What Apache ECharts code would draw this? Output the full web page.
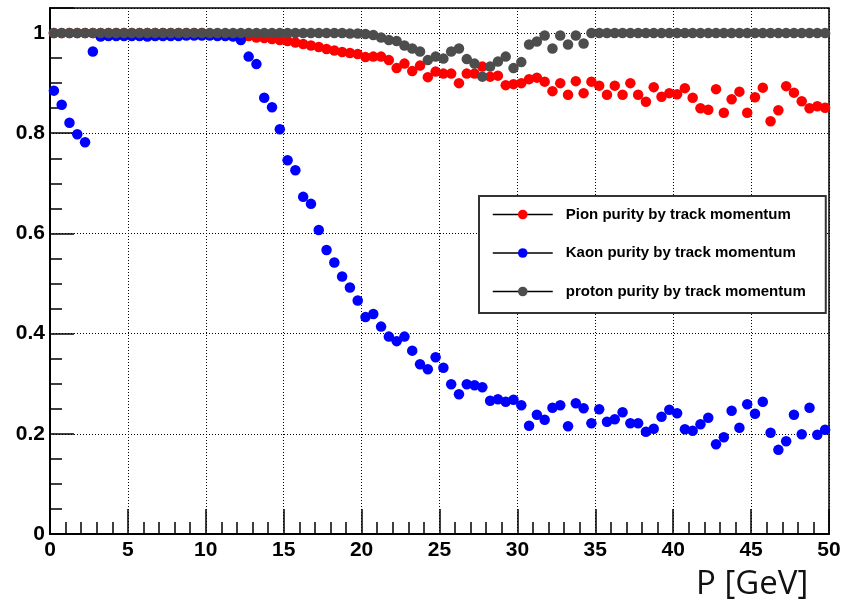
<!DOCTYPE html>
<html>
<head>
<meta charset="utf-8">
<style>
  html, body { margin: 0; padding: 0; background: #fff; }
  #chart { width: 846px; height: 608px; }
</style>
<script src="https://cdn.jsdelivr.net/npm/echarts@6/dist/echarts.min.js"></script>
</head>
<body>
<div id="chart"></div>
<script>
// bin centres of the momentum histogram (GeV)
const momentum = [
  0.25, 0.75, 1.25, 1.75, 2.25, 2.75, 3.25, 3.75, 4.25, 4.75,
  5.25, 5.75, 6.25, 6.75, 7.25, 7.75, 8.25, 8.75, 9.25, 9.75,
  10.25, 10.75, 11.25, 11.75, 12.25, 12.75, 13.25, 13.75, 14.25, 14.75,
  15.25, 15.75, 16.25, 16.75, 17.25, 17.75, 18.25, 18.75, 19.25, 19.75,
  20.25, 20.75, 21.25, 21.75, 22.25, 22.75, 23.25, 23.75, 24.25, 24.75,
  25.25, 25.75, 26.25, 26.75, 27.25, 27.75, 28.25, 28.75, 29.25, 29.75,
  30.25, 30.75, 31.25, 31.75, 32.25, 32.75, 33.25, 33.75, 34.25, 34.75,
  35.25, 35.75, 36.25, 36.75, 37.25, 37.75, 38.25, 38.75, 39.25, 39.75,
  40.25, 40.75, 41.25, 41.75, 42.25, 42.75, 43.25, 43.75, 44.25, 44.75,
  45.25, 45.75, 46.25, 46.75, 47.25, 47.75, 48.25, 48.75, 49.25, 49.75,
]

const pionPurity = [
  1.0, 1.0, 1.0, 1.0, 1.0, 1.0, 1.0, 1.0, 1.0, 1.0,
  1.0, 1.0, 1.0, 1.0, 1.0, 1.0, 1.0, 1.0, 1.0, 1.0,
  0.999, 0.999, 0.998, 0.998, 0.997, 0.994, 0.991, 0.990, 0.988, 0.986,
  0.984, 0.981, 0.978, 0.975, 0.972, 0.968, 0.965, 0.962, 0.960, 0.958,
  0.952, 0.953, 0.953, 0.946, 0.930, 0.939, 0.924, 0.935, 0.912, 0.923,
  0.919, 0.919, 0.900, 0.919, 0.919, 0.933, 0.913, 0.915, 0.896, 0.898,
  0.900, 0.908, 0.911, 0.903, 0.884, 0.900, 0.877, 0.904, 0.880, 0.903,
  0.895, 0.877, 0.895, 0.877, 0.900, 0.877, 0.863, 0.892, 0.873, 0.880,
  0.878, 0.890, 0.871, 0.850, 0.847, 0.888, 0.841, 0.868, 0.883, 0.841,
  0.872, 0.891, 0.824, 0.846, 0.894, 0.881, 0.864, 0.850, 0.854, 0.851,
]

const kaonPurity = [
  0.885, 0.857, 0.821, 0.798, 0.782, 0.963, 0.993, 0.994, 0.994, 0.994,
  0.994, 0.994, 0.993, 0.994, 0.994, 0.994, 0.994, 0.995, 0.995, 0.995,
  0.995, 0.994, 0.994, 0.993, 0.986, 0.953, 0.938, 0.871, 0.852, 0.808,
  0.746, 0.726, 0.673, 0.659, 0.607, 0.567, 0.542, 0.514, 0.492, 0.466,
  0.433, 0.439, 0.414, 0.394, 0.385, 0.394, 0.366, 0.339, 0.329, 0.353,
  0.332, 0.299, 0.279, 0.299, 0.297, 0.293, 0.266, 0.269, 0.264, 0.268,
  0.257, 0.216, 0.238, 0.228, 0.252, 0.257, 0.215, 0.261, 0.251, 0.221,
  0.249, 0.224, 0.229, 0.243, 0.221, 0.221, 0.204, 0.210, 0.234, 0.248,
  0.241, 0.209, 0.206, 0.219, 0.232, 0.179, 0.193, 0.246, 0.212, 0.259,
  0.240, 0.264, 0.202, 0.168, 0.185, 0.238, 0.199, 0.252, 0.198, 0.208,
]

const protonPurity = [
  1.0, 1.0, 1.0, 1.0, 1.0, 1.0, 1.0, 1.0, 1.0, 1.0,
  1.0, 1.0, 1.0, 1.0, 1.0, 1.0, 1.0, 1.0, 1.0, 1.0,
  1.0, 1.0, 1.0, 1.0, 1.0, 1.0, 1.0, 1.0, 1.0, 1.0,
  1.0, 1.0, 1.0, 1.0, 1.0, 1.0, 1.0, 1.0, 0.999, 0.999,
  0.998, 0.996, 0.991, 0.986, 0.984, 0.975, 0.969, 0.963, 0.946, 0.953,
  0.949, 0.963, 0.969, 0.948, 0.939, 0.913, 0.933, 0.943, 0.953, 0.930,
  0.942, 0.977, 0.983, 0.995, 0.969, 0.995, 0.977, 0.995, 0.979, 1.0,
  1.0, 1.0, 1.0, 1.0, 1.0, 1.0, 1.0, 1.0, 1.0, 1.0,
  1.0, 1.0, 1.0, 1.0, 1.0, 1.0, 1.0, 1.0, 1.0, 1.0,
  1.0, 1.0, 1.0, 1.0, 1.0, 1.0, 1.0, 1.0, 1.0, 1.0,
]

const seriesNames = [
  'Pion purity by track momentum',
  'Kaon purity by track momentum',
  'proton purity by track momentum',
]
const seriesColors = ['#ff0000', '#0000ff', '#4d4d4d']

const labelFont = {
  color: '#000',
  fontFamily: 'Liberation Sans',
  fontWeight: 'bold',
  fontSize: 21,
}

const makeSeries = (name, values, color) => ({
  name,
  type: 'line',
  data: momentum.map((p, i) => [p, values[i]]),
  symbol: 'circle',
  symbolSize: 10.5,
  showAllSymbol: true,
  lineStyle: { width: 0, opacity: 0 },
  itemStyle: { color },
  emphasis: { disabled: true },
  animation: false,
})

const chart = echarts.init(document.getElementById('chart'))
chart.setOption({
  animation: false,
  title: {
    text: 'P [GeV]',
    left: 696,
    top: 568,
    padding: 0,
    textStyle: {
      color: '#111',
      fontFamily: 'Open Sans',
      fontWeight: 'normal',
      fontSize: 33,
    },
  },
  grid: {
    left: 50,
    right: 17,
    top: 8,
    bottom: 74,
    show: true,
    borderColor: '#000',
    borderWidth: 1.5,
  },
  legend: {
    orient: 'vertical',
    left: 479,
    top: 196,
    padding: [11, 20, 14, 13],
    itemWidth: 60,
    itemHeight: 12,
    itemGap: 23.5,
    backgroundColor: '#fff',
    borderColor: '#333',
    borderWidth: 2,
    lineStyle: { color: '#000', width: 1.5, opacity: 1 },
    textStyle: {
      color: '#000',
      fontFamily: 'Liberation Sans',
      fontWeight: 'bold',
      fontSize: 15,
      padding: [0, 0, 0, 8],
    },
    selectedMode: false,
    data: seriesNames,
  },
  xAxis: {
    type: 'value',
    min: 0,
    max: 50,
    interval: 5,
    axisLine: { lineStyle: { color: '#000', width: 2 } },
    axisTick: { inside: true, length: 25, lineStyle: { color: '#000', width: 1.5 } },
    minorTick: { show: true, splitNumber: 5, length: 12, lineStyle: { color: '#000', width: 1.5 } },
    splitLine: { show: true, lineStyle: { color: '#000', width: 1, type: [1, 2] } },
    axisLabel: { ...labelFont, margin: 6 },
  },
  yAxis: {
    type: 'value',
    min: 0,
    max: 1.05,
    interval: 0.2,
    axisLine: { show: true, lineStyle: { color: '#000', width: 2 } },
    axisTick: { show: true, inside: true, length: 24, lineStyle: { color: '#000', width: 1.5 } },
    minorTick: { show: true, splitNumber: 4, length: 12, lineStyle: { color: '#000', width: 1.5 } },
    splitLine: { show: true, lineStyle: { color: '#000', width: 1, type: [1, 2] } },
    axisLabel: { ...labelFont, margin: 5, showMaxLabel: false },
  },
  series: [
    makeSeries(seriesNames[0], pionPurity, seriesColors[0]),
    makeSeries(seriesNames[1], kaonPurity, seriesColors[1]),
    makeSeries(seriesNames[2], protonPurity, seriesColors[2]),
  ],
})
</script>
</body>
</html>
